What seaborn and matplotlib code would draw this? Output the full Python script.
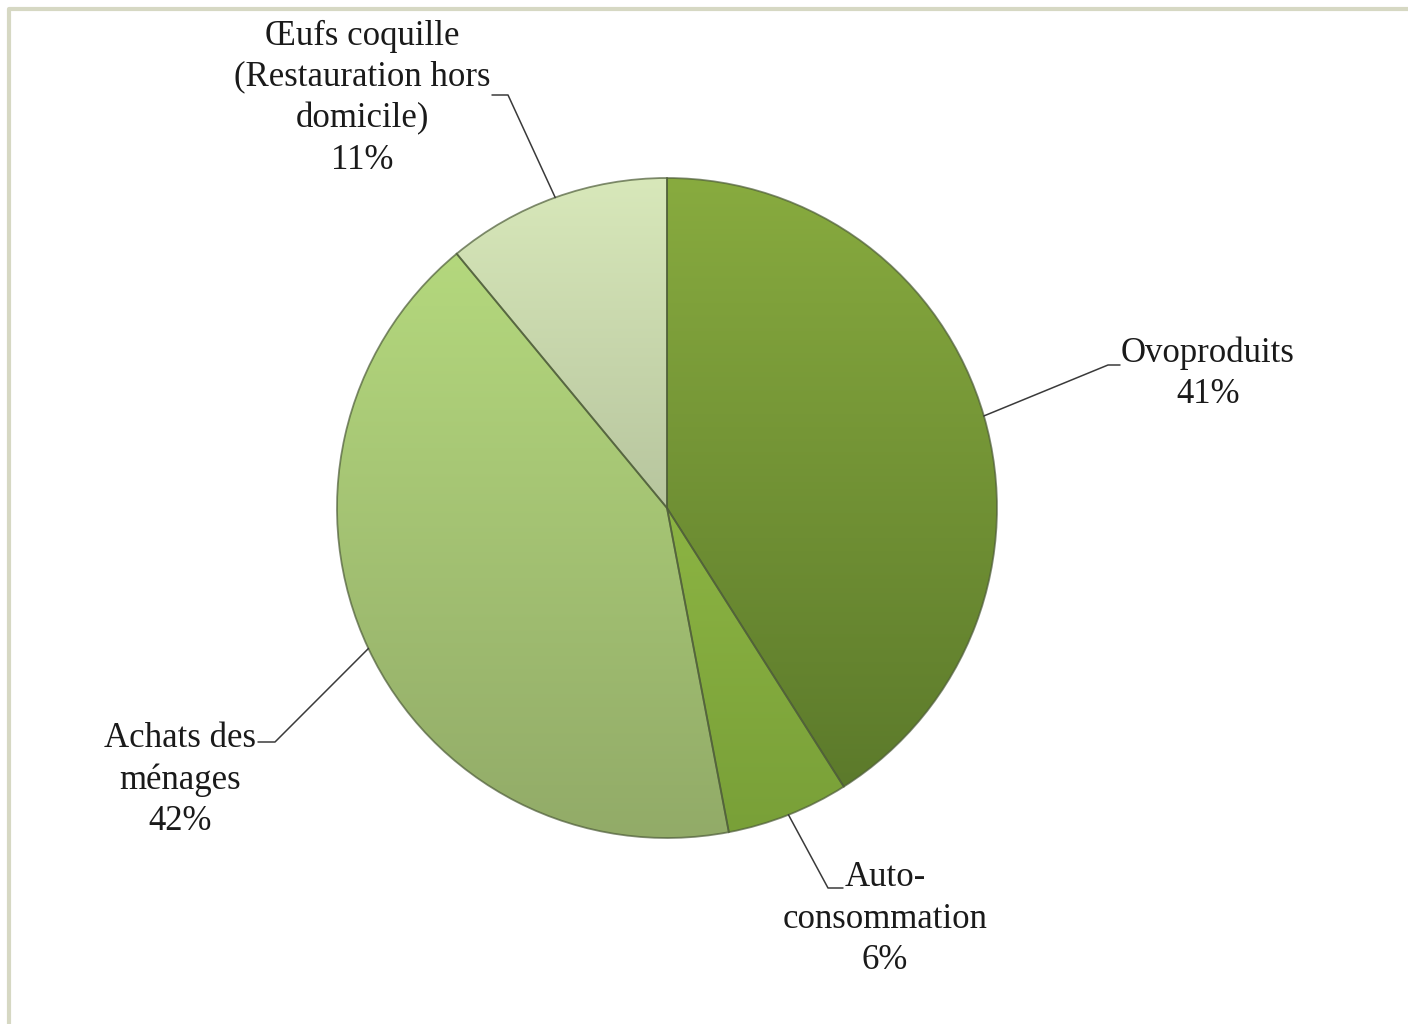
import numpy as np
import seaborn as sns
import matplotlib.pyplot as plt
from matplotlib.colors import LinearSegmentedColormap

# data (clockwise from 12 o'clock)
labels = ["Ovoproduits", "Auto-\nconsommation", "Achats des\nménages",
          "Œufs coquille\n(Restauration hors\ndomicile)"]
shares = [41, 6, 42, 11]
top_colors = ["#88ab3f", "#8cb443", "#b4d87d", "#d8e8ba"]
bottom_colors = ["#5c7a2b", "#79a038", "#92ab68", "#b7c59e"]

sns.set_style("white")
plt.rcParams['font.family'] = ['Liberation Serif', 'DejaVu Serif']

W, H = 1408, 1024
fig = plt.figure(figsize=(W / 100, H / 100), dpi=100)
ax = fig.add_axes([0, 0, 1, 1])

# light frame around the chart area
ax.plot([9, 9, W + 5], [-5, H - 9, H - 9], color="#d6d8c3", lw=3, zorder=0)

cx, cy, r = 667, H - 508, 330
wedges, _ = ax.pie(shares, startangle=90, counterclock=False, radius=r,
                   center=(cx, cy), frame=True,
                   wedgeprops=dict(edgecolor=(0.30, 0.36, 0.22, 0.7), linewidth=1.3))

# vertical gradient fill per slice
grad = np.linspace(1, 0, 256).reshape(-1, 1)
for w, c0, c1 in zip(wedges, top_colors, bottom_colors):
    w.set_facecolor("none")
    ext = w.get_path().get_extents(w.get_transform() - ax.transData)
    cmap = LinearSegmentedColormap.from_list("g", [c1, c0])
    im = ax.imshow(grad, cmap=cmap, extent=[ext.x0, ext.x1, ext.y0, ext.y1],
                   origin='upper', aspect='auto', zorder=w.get_zorder() - 0.1,
                   interpolation='bicubic')
    im.set_clip_path(w)

ax.set_xlim(0, W)
ax.set_ylim(0, H)
ax.set_aspect('equal')
ax.axis('off')

# labels and leader lines
label_pos = [(1208, 374), (885, 919), (180, 780), (362, 98)]
elbows = [[(1108, 365), (1120, 365)], [(828, 888), (843, 888)],
          [(275, 742), (258, 742)], [(508, 95), (492, 95)]]
cum = np.cumsum([0] + shares[:-1])
for i, (lab, s) in enumerate(zip(labels, shares)):
    mid = np.deg2rad(90 - (cum[i] + s / 2) / 100 * 360)
    p0 = (cx + r * np.cos(mid), cy + r * np.sin(mid))
    xs = [p0[0]] + [e[0] for e in elbows[i]]
    ys = [p0[1]] + [H - e[1] for e in elbows[i]]
    ax.plot(xs, ys, color="#3a3a3a", lw=1.1, zorder=5)
    tx, ty = label_pos[i]
    ax.text(tx, H - ty, f"{lab}\n{s}%", ha='center', va='center',
            fontsize=25, color="#1a1a1a", linespacing=1.33)

fig.savefig("out.png", dpi=100)
